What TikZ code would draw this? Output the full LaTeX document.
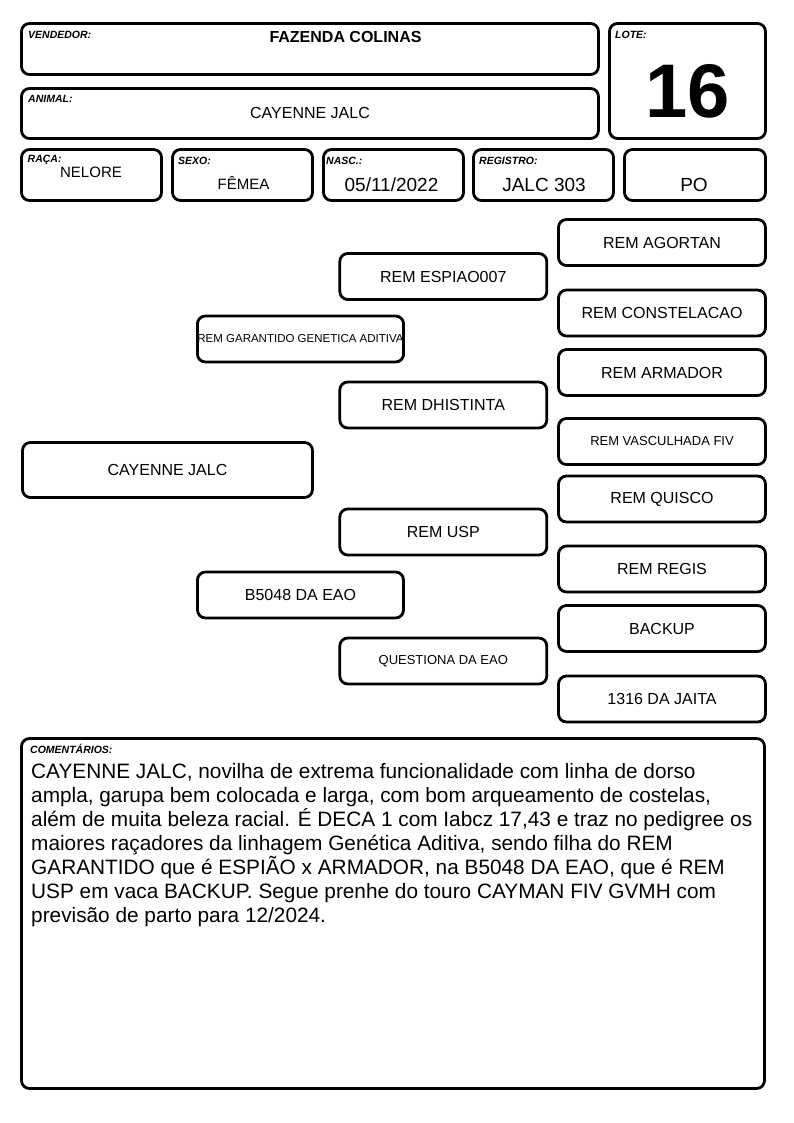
\documentclass[tikz,border=0pt]{standalone}
\usepackage{fontspec}
\setmainfont{Liberation Sans}
\usepackage{tikz}
\tikzset{every picture/.append style={x=1pt, y=-1pt}}
\tikzset{
    box/.style={draw, line width=2.8pt, rounded corners=8pt, inner sep=0pt},
    ped/.style={box, minimum width=207pt, minimum height=46pt,
        font=\fontsize{16}{19}\selectfont},
    tag/.style={anchor=base west, inner sep=0pt,
        font=\bfseries\itshape\fontsize{10.5}{12}\selectfont},
    val/.style={anchor=base, inner sep=0pt, font=\fontsize{16}{19}\selectfont}
}

\begin{document}
\begin{tikzpicture}
  \useasboundingbox (0, 0) rectangle (794, 1123);

  % header
  \node (vendedor) [box, minimum width=577pt, minimum height=51pt] at (310, 49) {};
  \node (animal) [box, minimum width=577pt, minimum height=50pt] at (310, 113.5) {};
  \node (lote) [box, minimum width=156pt, minimum height=115pt] at (687.5, 81) {};
  \node (raca) [box, minimum width=140pt, minimum height=51pt] at (91.5, 175) {};
  \node (sexo) [box, minimum width=140pt, minimum height=51pt] at (242.5, 175) {};
  \node (nasc) [box, minimum width=140pt, minimum height=51pt] at (393.5, 175) {};
  \node (registro) [box, minimum width=140pt, minimum height=51pt] at (543.5, 175) {};
  \node (po) [box, minimum width=141pt, minimum height=51pt] at (695, 175) {};

  \node (tvendedor) [tag] at (28, 39) {VENDEDOR:};
  \node (tanimal) [tag] at (28, 103) {ANIMAL:};
  \node (tlote) [tag] at (615, 39) {LOTE:};
  \node (traca) [tag] at (27.5, 163) {RAÇA:};
  \node (tsexo) [tag] at (178, 165) {SEXO:};
  \node (tnasc) [tag] at (326, 165) {NASC.:};
  \node (tregistro) [tag] at (479, 165) {REGISTRO:};

  \node (vvendedor) [val, font=\bfseries\fontsize{16}{19}\selectfont] at (345.5, 43) {FAZENDA COLINAS};
  \node (vanimal) [val] at (310, 119) {CAYENNE JALC};
  \node (vlote) [val, font=\bfseries\fontsize{76}{80}\selectfont] at (687.5, 118) {16};
  \node (vraca) [val, font=\fontsize{15}{18}\selectfont] at (91, 178) {NELORE};
  \node (vsexo) [val, font=\fontsize{15}{18}\selectfont] at (243.5, 189.5) {FÊMEA};
  \node (vnasc) [val, font=\fontsize{19}{22}\selectfont] at (391.5, 192) {05/11/2022};
  \node (vregistro) [val, font=\fontsize{19}{22}\selectfont] at (544, 192) {JALC 303};
  \node (vpo) [val, font=\fontsize{19}{22}\selectfont] at (694, 192) {PO};

  % pedigree
  \node (a) [ped, minimum width=290pt, minimum height=55pt] at (167.5, 470) {CAYENNE JALC};

  \node (p) [ped, minimum width=206pt, font=\fontsize{11.5}{14}\selectfont] at (300.5, 339) {REM GARANTIDO GENETICA ADITIVA};
  \node (m) [ped, minimum width=206pt] at (300.5, 595) {B5048 DA EAO};

  \node (pp) [ped] at (443.3, 276.5) {REM ESPIAO007};
  \node (pm) [ped] at (443.3, 405) {REM DHISTINTA};
  \node (mp) [ped] at (443.3, 532) {REM USP};
  \node (mm) [ped, font=\fontsize{13}{16}\selectfont] at (443.3, 661) {QUESTIONA DA EAO};

  \node (ppp) [ped] at (662, 242.5) {REM AGORTAN};
  \node (ppm) [ped] at (662, 313) {REM CONSTELACAO};
  \node (pmp) [ped] at (662, 372.5) {REM ARMADOR};
  \node (pmm) [ped, font=\fontsize{13}{16}\selectfont] at (662, 441.5) {REM VASCULHADA FIV};
  \node (mpp) [ped] at (662, 499) {REM QUISCO};
  \node (mpm) [ped] at (662, 569) {REM REGIS};
  \node (mmp) [ped] at (662, 628.5) {BACKUP};
  \node (mmm) [ped] at (662, 699) {1316 DA JAITA};

  % comments
  \node (coment) [box, minimum width=743pt, minimum height=350pt] at (393, 913.5) {};
  \node (tcoment) [tag] at (30, 753) {COMENTÁRIOS:};
  \node (vcoment) [anchor=north west, inner sep=0pt, align=left,
    font=\fontsize{20.8}{24}\selectfont] at (31, 763) {CAYENNE JALC, novilha de extrema funcionalidade com linha de dorso\\
    ampla, garupa bem colocada e larga, com bom arqueamento de costelas,\\
    além de muita beleza racial. É DECA 1 com Iabcz 17,43 e traz no pedigree os\\
    maiores raçadores da linhagem Genética Aditiva, sendo filha do REM\\
    GARANTIDO que é ESPIÃO x ARMADOR, na B5048 DA EAO, que é REM\\
    USP em vaca BACKUP. Segue prenhe do touro CAYMAN FIV GVMH com\\
    previsão de parto para 12/2024.};
\end{tikzpicture}
\end{document}
